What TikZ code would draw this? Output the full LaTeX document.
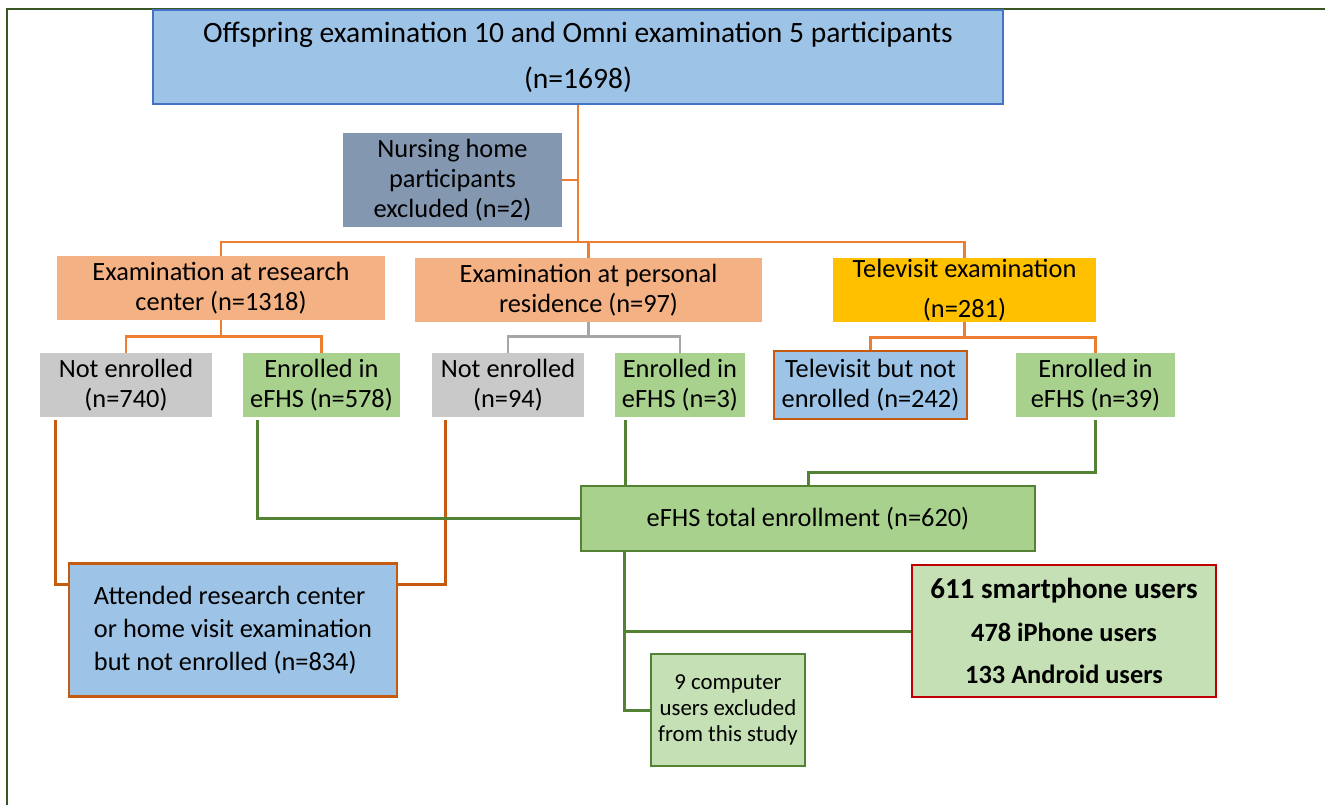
\documentclass[tikz,border=0pt]{standalone}
\usepackage{fontspec}
\setmainfont{Carlito}
\usepackage{tikz}
\usetikzlibrary{calc}

\definecolor{boxblue}{HTML}{9DC3E6}
\definecolor{lineblue}{HTML}{4472C4}
\definecolor{slate}{HTML}{8497B0}
\definecolor{salmon}{HTML}{F4B183}
\definecolor{gold}{HTML}{FFC000}
\definecolor{greybox}{HTML}{C9C9C9}
\definecolor{midgreen}{HTML}{A9D18E}
\definecolor{lightgreen}{HTML}{C5E0B4}
\definecolor{darkgreen}{HTML}{548235}
\definecolor{orangeline}{HTML}{ED7D31}
\definecolor{brownline}{HTML}{C55A11}
\definecolor{redline}{HTML}{C00000}
\definecolor{framegreen}{HTML}{385723}

\begin{document}
\begin{tikzpicture}[x=0.02cm,y=-0.02cm]
      \tikzset{box/.style = {shape=rectangle,inner sep=0pt,align=center,
          font=\fontsize{15}{17}\selectfont,minimum height=1.28cm}}
      \tikzset{oline/.style = {draw=orangeline,line width=1.6pt}}
      \tikzset{bline/.style = {draw=brownline,line width=1.7pt}}
      \tikzset{gline/.style = {draw=darkgreen,line width=1.7pt}}
      \tikzset{greyline/.style = {draw=black!35,line width=1.6pt}}
      \useasboundingbox (0,0) rectangle (1325,805);
      \draw[framegreen,line width=1.2pt] (7,805) -- (7,9) -- (1325,9);

      \node[box,fill=boxblue,draw=lineblue,line width=1.3pt,minimum width=17cm,minimum height=1.88cm,
          font=\fontsize{16.8}{19}\selectfont] (top) at (578,57)
          {Offspring examination 10 and Omni examination 5 participants\\[7pt] (n=1698)};
      \node[box,fill=slate,minimum width=4.38cm,minimum height=1.88cm] (nurse) at (452.5,180)
          {Nursing home\\ participants\\ excluded (n=2)};

      \node[box,fill=salmon,minimum width=6.56cm] (res) at (221,288) {Examination at research\\ center (n=1318)};
      \node[box,fill=salmon,minimum width=6.94cm] (pers) at (588.5,290) {Examination at personal\\ residence (n=97)};
      \node[box,fill=gold,minimum width=5.26cm] (tele) at (964.5,290) {Televisit examination\\[6pt] (n=281)};

      \node[box,fill=greybox,minimum width=3.44cm] (ne1) at (126,385) {Not enrolled\\ (n=740)};
      \node[box,fill=midgreen,minimum width=3.14cm] (en1) at (321.5,385) {Enrolled in\\ eFHS (n=578)};
      \node[box,fill=greybox,minimum width=3.04cm] (ne2) at (508,385) {Not enrolled\\ (n=94)};
      \node[box,fill=midgreen,minimum width=2.6cm] (en2) at (680,385) {Enrolled in\\ eFHS (n=3)};
      \node[box,fill=boxblue,draw=brownline,line width=1.6pt,minimum width=3.86cm,minimum height=1.36cm] (tne) at (870.5,385)
          {Televisit but not\\ enrolled (n=242)};
      \node[box,fill=midgreen,minimum width=3.18cm] (en3) at (1095.5,385) {Enrolled in\\ eFHS (n=39)};

      \node[box,fill=midgreen,draw=darkgreen,line width=1.6pt,minimum width=9.08cm,minimum height=1.3cm] (total) at (808,518.5)
          {eFHS total enrollment (n=620)};
      \node[box,fill=boxblue,draw=brownline,line width=1.6pt,align=left,minimum width=6.56cm,
          minimum height=2.66cm,font=\fontsize{15}{18.8}\selectfont] (att) at (233,630)
          {Attended research center\\ or home visit examination\\ but not enrolled (n=834)};
      \node[box,fill=lightgreen,draw=darkgreen,line width=1.4pt,minimum width=3.08cm,minimum height=2.24cm,
          font=\fontsize{13}{14.8}\selectfont] (comp) at (728,710)
          {9 computer\\ users excluded\\ from this study};
      \node[box,fill=lightgreen,draw=redline,line width=1.6pt,minimum width=6.08cm,minimum height=2.64cm,
          font=\fontsize{15}{24}\selectfont\bfseries] (smart) at (1064,631)
          {{\fontsize{16.5}{24}\selectfont 611 smartphone users}\\ 478 iPhone users\\ 133 Android users};

      \draw[oline] (top) -- (578,242) coordinate (hub);
      \draw[oline] (nurse.east) -- (nurse.east -| hub);
      \draw[oline] (res.north) -- (res.north |- hub) -- (tele.north |- hub) -- (tele.north);
      \draw[oline] (pers.north) -- (pers.north |- hub);

      \draw[oline] (res.south) -- ++(0,16) coordinate (rs);
      \draw[oline] (ne1.north) |- (rs) -| (en1.north);
      \draw[greyline] (pers.south) -- ++(0,14) coordinate (ps);
      \draw[greyline] (ne2.north) |- (ps) -| (en2.north);
      \draw[oline] (tele.south) -- ++(0,15) coordinate (ts);
      \draw[oline] (tne.north) |- (ts) -| (en3.north);

      \draw[bline] ($(ne1.south west)+(16,3)$) |- ($(att.north west)+(0,22)$);
      \draw[bline] ($(ne2.south west)+(14,3)$) |- ($(att.north east)+(0,22)$);

      \draw[gline] ($(en1.south west)+(15,3)$) |- (total.west);
      \draw[gline] ($(en2.south west)+(11,3)$) coordinate (e2) -- (e2 |- total.north);
      \draw[gline] ($(en3.south)+(0,3)$) -- ++(0,52) -| (total.north);
      \draw[gline] ($(total.south west)+(45,0)$) |- (comp.west);
      \draw[gline] ($(total.south west)+(45,0)$) |- (smart.west);
\end{tikzpicture}
\end{document}
